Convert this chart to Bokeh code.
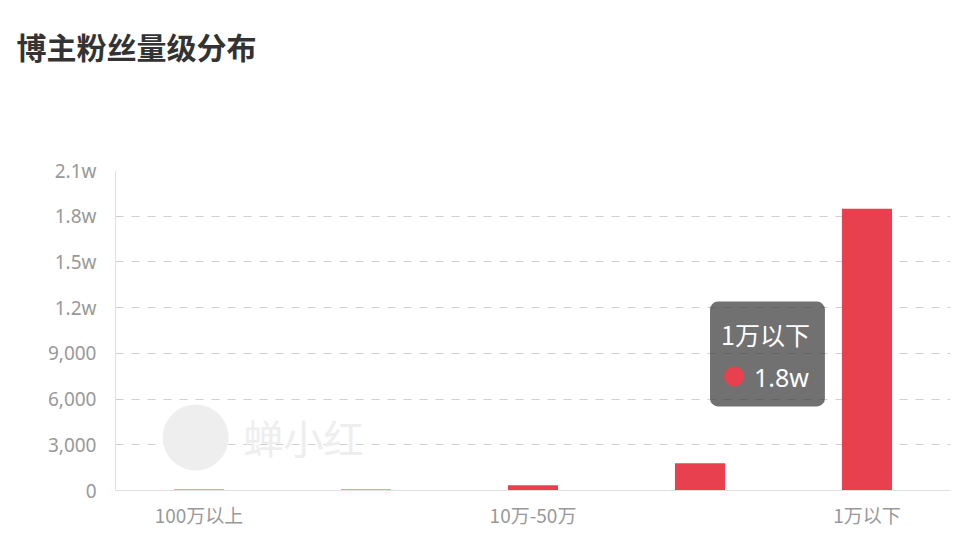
from bokeh.plotting import figure
from bokeh.models import FixedTicker, Range1d, Title
from bokeh.core.properties import value
from bokeh.embed import file_html
from bokeh.resources import INLINE

title_text = "博主粉丝量级分布"
categories = ["100万以上", "50万-100万", "10万-50万", "1万-10万", "1万以下"]
fans = [60, 70, 340, 1790, 18490]
shown_labels = ["100万以上", "10万-50万", "1万以下"]
y_ticks = [0, 3000, 6000, 9000, 12000, 15000, 18000, 21000]
y_tick_labels = ["0", "3,000", "6,000", "9,000", "1.2w", "1.5w", "1.8w", "2.1w"]
tip_category = "1万以下"
tip_value = "1.8w"
watermark = "蝉小红"

FONT = "Noto Sans CJK SC"
RED = "#E8404F"

xpos = list(range(len(categories)))
idx = {c: i for i, c in enumerate(categories)}

p = figure(x_range=Range1d(-0.5, len(categories) - 0.5), y_range=Range1d(0, 21000),
           width=958, height=538, output_backend="svg", toolbar_location=None,
           min_border_left=115, min_border_right=8, min_border_bottom=48, min_border_top=170)
p.outline_line_color = None

spacer = Title(text=" ", text_font=FONT, text_font_size="30px", standoff=35)
p.add_layout(spacer, "above")
main_title = Title(text=title_text, text_font=FONT, text_font_size="30px",
                   text_font_style="bold", text_color="#333333", align="left",
                   offset=-99, standoff=43)
p.add_layout(main_title, "above")

# watermark
p.scatter(x=[idx[categories[0]] - 0.02], y=[3480], size=66, marker="circle",
          fill_color="#EEEEEE", line_color=None)
p.text(x=[idx[categories[0]] + 0.266], y=[3480], text=[watermark], text_font=value(FONT),
       text_font_size="40px", text_color="#EEEEEE", text_baseline="middle", text_align="left")

p.vbar(x=xpos, top=fans, width=0.3, fill_color=RED, line_color=None)

# tooltip box
c3 = idx["1万-10万"]
p.quad(left=[c3 + 0.06], right=[c3 + 0.748], bottom=[5520], top=[12400],
       fill_color="#3A3A3A", fill_alpha=0.72, line_color=None, border_radius=8)
p.text(x=[c3 + 0.126], y=[10300], text=[tip_category], text_font=value(FONT),
       text_font_size="25px", text_color="white", text_baseline="middle", text_align="left")
p.scatter(x=[c3 + 0.204], y=[7480], size=20, marker="circle",
          fill_color=RED, line_color=None)
p.text(x=[c3 + 0.323], y=[7480], text=[tip_value], text_font=value("Noto Sans"),
       text_font_size="25px", text_color="white", text_baseline="middle", text_align="left")

# axes
p.yaxis.ticker = FixedTicker(ticks=y_ticks)
p.yaxis.major_label_overrides = {t: l for t, l in zip(y_ticks, y_tick_labels)}
p.yaxis.major_tick_line_color = None
p.yaxis.minor_tick_line_color = None
p.yaxis.axis_line_color = "#E0E0E0"
p.yaxis.major_label_text_color = "#999999"
p.yaxis.major_label_text_font = "Noto Sans"
p.yaxis.major_label_text_font_size = "19px"
p.yaxis.major_label_standoff = 13

p.xaxis.ticker = FixedTicker(ticks=[idx[c] for c in shown_labels])
p.xaxis.major_label_overrides = {idx[c]: c for c in shown_labels}
p.xaxis.major_tick_line_color = None
p.xaxis.minor_tick_line_color = None
p.xaxis.axis_line_color = "#E0E0E0"
p.xaxis.major_label_text_color = "#999999"
p.xaxis.major_label_text_font = FONT
p.xaxis.major_label_text_font_size = "19px"
p.xaxis.major_label_standoff = 4

p.xgrid.grid_line_color = None
p.ygrid.grid_line_color = "#D0D0D0"
p.ygrid.grid_line_dash = "8 8"

open("out.html", "w").write(file_html(p, INLINE))
